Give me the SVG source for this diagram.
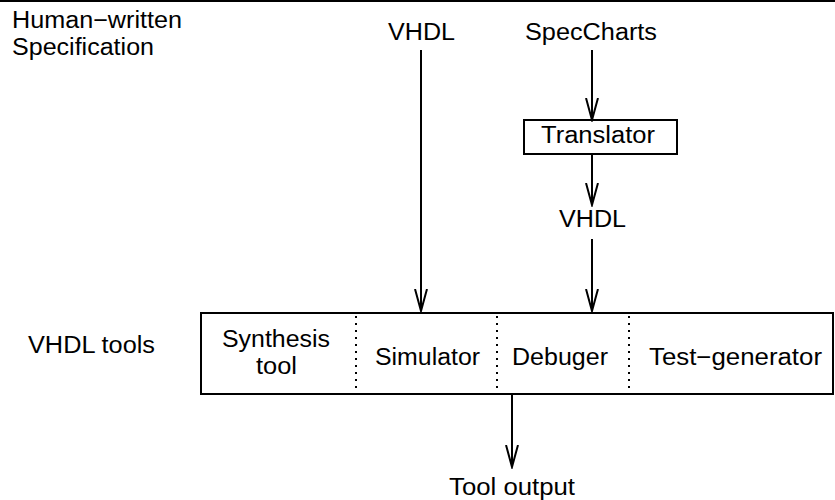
<svg xmlns="http://www.w3.org/2000/svg" width="835" height="500" viewBox="0 0 835 500">
<style>
text{font-family:"Liberation Sans",Arial,sans-serif;font-size:23.5px;fill:#000}
.ln{stroke:#000;stroke-width:2;fill:none}
.dot{stroke:#000;stroke-width:2;stroke-dasharray:2,5;fill:none}
.ah{stroke:#000;stroke-width:2;fill:none;stroke-linejoin:miter}
</style>
<defs>
<marker id="arr" markerUnits="userSpaceOnUse" markerWidth="24" markerHeight="16" refX="22" refY="8" orient="auto" viewBox="0 0 24 16">
<path d="M0,2 L22,8 L0,14" class="ah"/>
</marker>
</defs>
<line x1="0" y1="1" x2="835" y2="1" class="ln"/>
<g id="label-spec">
<text x="12" y="28" textLength="170" lengthAdjust="spacingAndGlyphs">Human−written</text>
<text x="12" y="55" textLength="142" lengthAdjust="spacingAndGlyphs">Specification</text>
</g>
<g id="label-tools">
<text x="28" y="353" textLength="127" lengthAdjust="spacingAndGlyphs">VHDL tools</text>
</g>
<g id="vhdl-src">
<text x="388" y="40" textLength="67" lengthAdjust="spacingAndGlyphs">VHDL</text>
</g>
<g id="speccharts">
<text x="525" y="40" textLength="132" lengthAdjust="spacingAndGlyphs">SpecCharts</text>
</g>
<g id="translator">
<rect x="524" y="120" width="153" height="34" class="ln"/>
<text x="541" y="143" textLength="114" lengthAdjust="spacingAndGlyphs">Translator</text>
</g>
<g id="vhdl-mid">
<text x="559" y="227" textLength="67" lengthAdjust="spacingAndGlyphs">VHDL</text>
</g>
<g id="tools">
<rect x="201" y="313" width="632" height="81" class="ln"/>
<line x1="356" y1="316" x2="356" y2="392" class="dot"/>
<line x1="497" y1="316" x2="497" y2="392" class="dot"/>
<line x1="629" y1="316" x2="629" y2="392" class="dot"/>
<text x="222" y="347" textLength="108" lengthAdjust="spacingAndGlyphs">Synthesis</text>
<text x="256" y="374" textLength="41" lengthAdjust="spacingAndGlyphs">tool</text>
<text x="375" y="365" textLength="105" lengthAdjust="spacingAndGlyphs">Simulator</text>
<text x="512" y="365" textLength="96" lengthAdjust="spacingAndGlyphs">Debuger</text>
<text x="649" y="365" textLength="173" lengthAdjust="spacingAndGlyphs">Test−generator</text>
</g>
<g id="tool-output">
<text x="449" y="495" textLength="126" lengthAdjust="spacingAndGlyphs">Tool output</text>
</g>
<g id="connectors">
<line x1="421" y1="50" x2="421" y2="311" class="ln" marker-end="url(#arr)"/>
<line x1="592" y1="50" x2="592" y2="120" class="ln" marker-end="url(#arr)"/>
<line x1="592" y1="154" x2="592" y2="205" class="ln" marker-end="url(#arr)"/>
<line x1="592" y1="239" x2="592" y2="311" class="ln" marker-end="url(#arr)"/>
<line x1="512" y1="394" x2="512" y2="467" class="ln" marker-end="url(#arr)"/>
</g>
</svg>
